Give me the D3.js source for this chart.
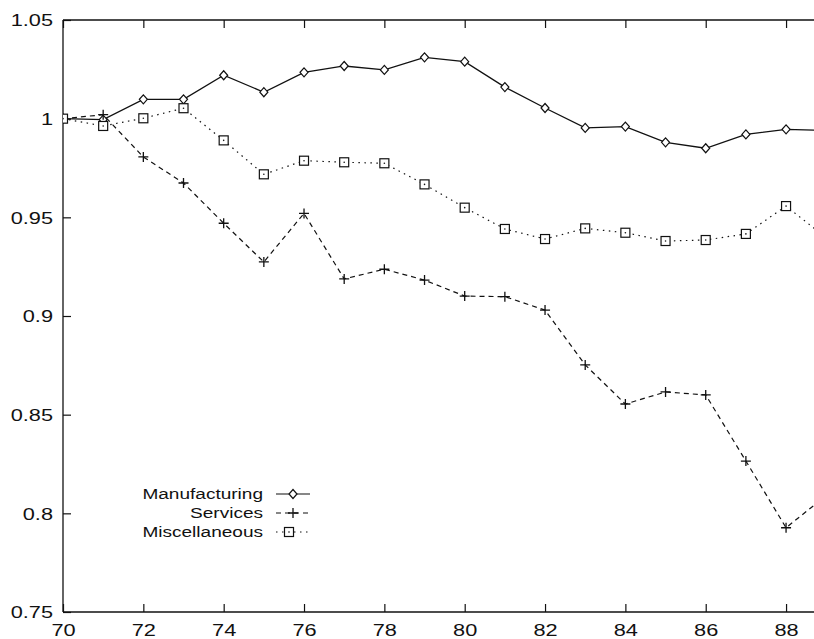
<!DOCTYPE html>
<html>
<head>
<meta charset="utf-8">
<script src="https://cdn.jsdelivr.net/npm/d3@7"></script>
<style>
  html, body { margin: 0; padding: 0; background: #fff; }
  svg { display: block; }
  text { font-family: "Liberation Sans", Arial, Helvetica, sans-serif; fill: #111; }
</style>
</head>
<body>
<svg id="chart" width="814" height="639"></svg>
<script>
// Years (19xx) and relative index values for each sector
const years = [70, 71, 72, 73, 74, 75, 76, 77, 78, 79, 80, 81, 82, 83, 84, 85, 86, 87, 88, 89];
const manufacturing = [1.000, 0.9995, 1.0098, 1.0098, 1.022, 1.0134, 1.0235, 1.0267, 1.0247, 1.0311,
                       1.0289, 1.016, 1.0054, 0.9953, 0.996, 0.988, 0.985, 0.992, 0.9946, 0.994];
const services = [1.000, 1.002, 0.9806, 0.9674, 0.947, 0.9274, 0.952, 0.9188, 0.9237, 0.9182,
                  0.9101, 0.9098, 0.903, 0.8752, 0.8554, 0.8615, 0.860, 0.8265, 0.7927, 0.809];
const miscellaneous = [1.000, 0.9963, 1.0002, 1.0053, 0.989, 0.9718, 0.9787, 0.9779, 0.9774, 0.9667,
                       0.9549, 0.9441, 0.939, 0.9444, 0.9422, 0.938, 0.9385, 0.9416, 0.9557, 0.9396];
const xTicks = [70, 72, 74, 76, 78, 80, 82, 84, 86, 88];
const yTicks = [0.75, 0.8, 0.85, 0.9, 0.95, 1, 1.05];
const seriesNames = ["Manufacturing", "Services", "Miscellaneous"];

const svg = d3.select("#chart");
const plotLeft = 63, plotTop = 20, plotBottom = 612;
const yearWidth = 40.17;

const x = d3.scaleLinear().domain([70, 90]).range([plotLeft, plotLeft + 20 * yearWidth]);
const y = d3.scaleLinear().domain([0.75, 1.05]).range([plotBottom, plotTop]);

const TICK = 8;
const stretch = 1.28;

// Frame: left, bottom and top border lines
const frame = svg.append("g").attr("stroke", "#111").attr("stroke-width", 1.3).attr("fill", "none");
frame.append("line").attr("x1", x(70)).attr("x2", x(70)).attr("y1", y(0.75)).attr("y2", y(1.05));
frame.append("line").attr("x1", x(70)).attr("x2", x(90)).attr("y1", y(0.75)).attr("y2", y(0.75));
frame.append("line").attr("x1", x(70)).attr("x2", x(90)).attr("y1", y(1.05)).attr("y2", y(1.05));

// Bottom axis with inward ticks
const xAxis = svg.append("g")
  .attr("transform", `translate(0,${plotBottom})`)
  .call(d3.axisBottom(x).tickValues(xTicks).tickSize(-TICK).tickPadding(0).tickFormat(d3.format("d")));
xAxis.select(".domain").remove();
xAxis.selectAll(".tick line").attr("stroke", "#111").attr("stroke-width", 1.2);
xAxis.selectAll(".tick text")
  .attr("y", 0).attr("dy", null)
  .attr("transform", `translate(0,24) scale(${stretch},1)`)
  .style("font-size", "17px").attr("fill", "#111");

// Top mirror ticks
const xTop = svg.append("g")
  .attr("transform", `translate(0,${plotTop})`)
  .call(d3.axisTop(x).tickValues(xTicks).tickSize(-TICK).tickFormat(""));
xTop.select(".domain").remove();
xTop.selectAll(".tick line").attr("stroke", "#111").attr("stroke-width", 1.2);

// Left axis with inward ticks
const yAxis = svg.append("g")
  .attr("transform", `translate(${plotLeft},0)`)
  .call(d3.axisLeft(y).tickValues(yTicks).tickSize(-TICK).tickPadding(0).tickFormat(d => String(+d.toFixed(2))));
yAxis.select(".domain").remove();
yAxis.selectAll(".tick line").attr("stroke", "#111").attr("stroke-width", 1.2);
yAxis.selectAll(".tick text")
  .attr("x", 0).attr("dy", "0.35em")
  .attr("transform", `translate(-10,0) scale(${stretch},1)`)
  .style("font-size", "17px").attr("fill", "#111");

// Series styling
const styles = [
  { name: seriesNames[0], values: manufacturing, dash: null, marker: "diamond" },
  { name: seriesNames[1], values: services, dash: "5,4", marker: "plus" },
  { name: seriesNames[2], values: miscellaneous, dash: "1.5,4.5", marker: "square" }
];

svg.append("clipPath").attr("id", "plotclip")
  .append("rect").attr("x", plotLeft).attr("y", plotTop - 6).attr("width", 900).attr("height", plotBottom - plotTop + 12);

const line = d3.line().x((d, i) => x(years[i])).y(d => y(d));

function drawMarker(g, type, cx, cy) {
  if (type === "diamond") {
    g.append("path")
      .attr("d", `M${cx},${cy - 4.5}L${cx + 4},${cy}L${cx},${cy + 4.5}L${cx - 4},${cy}Z`)
      .attr("fill", "#fff").attr("stroke", "#111").attr("stroke-width", 1.2);
  } else if (type === "plus") {
    g.append("path")
      .attr("d", `M${cx - 5},${cy}H${cx + 5}M${cx},${cy - 5}V${cy + 5}`)
      .attr("fill", "none").attr("stroke", "#111").attr("stroke-width", 1.3);
  } else {
    g.append("rect")
      .attr("x", cx - 4.5).attr("y", cy - 4.5).attr("width", 9).attr("height", 9)
      .attr("fill", "#fff").attr("stroke", "#111").attr("stroke-width", 1.2);
    g.append("circle").attr("cx", cx).attr("cy", cy).attr("r", 0.8).attr("fill", "#111");
  }
}

const plot = svg.append("g").attr("clip-path", "url(#plotclip)");
styles.forEach(s => {
  plot.append("path")
    .datum(s.values)
    .attr("d", line)
    .attr("fill", "none")
    .attr("stroke", "#111")
    .attr("stroke-width", s.dash ? 1.2 : 1.3)
    .attr("stroke-dasharray", s.dash);
  const mg = plot.append("g");
  s.values.forEach((v, i) => drawMarker(mg, s.marker, x(years[i]), y(v)));
});

// Legend
const legend = svg.append("g");
styles.forEach((s, i) => {
  const ly = 494 + i * 19;
  legend.append("text")
    .attr("text-anchor", "end")
    .attr("dy", "0.35em")
    .attr("transform", `translate(263,${ly}) scale(${stretch - 0.01},1)`)
    .style("font-size", "15px")
    .text(s.name);
  legend.append("line")
    .attr("x1", 276).attr("x2", 310).attr("y1", ly).attr("y2", ly)
    .attr("stroke", "#111").attr("stroke-width", 1.2)
    .attr("stroke-dasharray", s.dash);
  drawMarker(legend, s.marker, i === 2 ? 289 : 293, ly);
});
</script>
</body>
</html>
